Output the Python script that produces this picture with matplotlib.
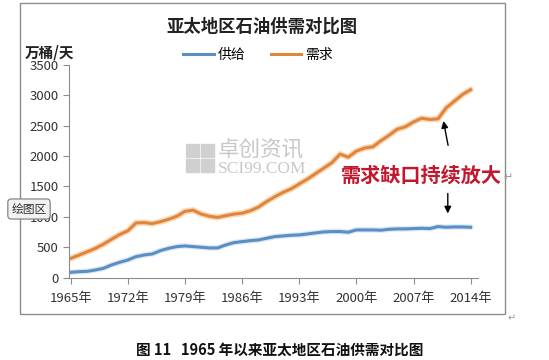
import matplotlib.pyplot as plt
from matplotlib.patches import Rectangle

plt.rcParams['font.family'] = ['Noto Sans CJK SC', 'DejaVu Sans']

# datos (万桶/天)
years = list(range(1965, 2015))
supply = [88, 99, 104, 126, 154, 209, 253, 291, 346, 373,
          390, 445, 483, 511, 522, 511, 500, 489, 489, 538,
          576, 593, 609, 620, 648, 675, 686, 697, 703, 719,
          736, 752, 758, 758, 747, 785, 785, 785, 780, 796,
          802, 802, 807, 812, 807, 840, 829, 834, 834, 829]
demand = [318, 370, 425, 480, 550, 630, 710, 770, 900, 905,
          890, 920, 960, 1010, 1090, 1110, 1045, 1010, 990, 1020,
          1045, 1060, 1100, 1160, 1250, 1330, 1400, 1460, 1540, 1620,
          1710, 1800, 1890, 2030, 1980, 2080, 2130, 2150, 2250, 2340,
          2440, 2480, 2560, 2620, 2600, 2610, 2790, 2900, 3010, 3090]
xticks = [1965, 1972, 1979, 1986, 1993, 2000, 2007, 2014]
xlabels = [f'{y}年' for y in xticks]
yticks = list(range(0, 3501, 500))

fig = plt.figure(figsize=(5.49, 3.6), dpi=100)

# marco del grafico
fig.patches.append(Rectangle((20 / 549, 1 - 314 / 360), 485 / 549, 311 / 360,
                             transform=fig.transFigure, fill=False,
                             edgecolor='#8c8c8c', linewidth=1))

ax = fig.add_axes([69.3 / 549, 1 - 277.7 / 360, (478 - 69.3) / 549, (277.7 - 64.7) / 360])

# lineas con un halo suave
ax.plot(years, demand, color='#f5c08e', linewidth=4.5, alpha=0.6, solid_capstyle='round')
ax.plot(years, supply, color='#b9d3ec', linewidth=4.0, alpha=0.5, solid_capstyle='round')
l1, = ax.plot(years, supply, color='#5b8fc2', linewidth=2.2, label='供给')
l2, = ax.plot(years, demand, color='#e0863a', linewidth=2.2, label='需求')

ax.set_xlim(1964.83, 2014.9)
ax.set_ylim(0, 3500)
ax.set_xticks(xticks)
ax.set_xticklabels(xlabels, fontsize=9.5, color='#333333')
ax.set_yticks(yticks)
ax.set_yticklabels([str(v) for v in yticks], fontsize=9.5, color='#333333')
ax.tick_params(axis='both', direction='out', length=4, color='#8c8c8c', width=0.8)
ax.tick_params(axis='x', pad=6)
for s in ['top', 'right']:
    ax.spines[s].set_visible(False)
for s in ['left', 'bottom']:
    ax.spines[s].set_color('#8c8c8c')
    ax.spines[s].set_linewidth(0.8)

# titulo, unidad y leyenda
fig.text(262 / 549, 1 - 27 / 360, '亚太地区石油供需对比图', ha='center', va='center',
         fontsize=12.5, fontweight='bold', color='#222222')
fig.text(25 / 549, 1 - 52 / 360, '万桶/天', ha='left', va='center',
         fontsize=10.5, fontweight='bold', color='#222222')
fig.legend(handles=[l1, l2], loc='center', bbox_to_anchor=(258 / 549, 1 - 55 / 360),
           ncol=2, frameon=False, fontsize=10, handlelength=2.2, columnspacing=1.8,
           handletextpad=0.3)

# marca de agua
for dx, dy in [(0, 0), (15, 0), (0, 15), (15, 15)]:
    fig.patches.append(Rectangle(((186 + dx) / 549, 1 - (157 + dy) / 360), 13 / 549, 13 / 360,
                                 transform=fig.transFigure, color='#d0d0d0', zorder=0))
fig.text(218 / 549, 1 - 150 / 360, '卓创资讯', fontsize=15.5, color='#c8c8c8',
         ha='left', va='center', zorder=0)
fig.text(218 / 549, 1 - 169 / 360, 'SCI99.COM', fontsize=12.5, color='#c8c8c8',
         ha='left', va='center', family='Liberation Serif', zorder=0)

# anotacion
fig.text(421 / 549, 1 - 175 / 360, '需求缺口持续放大', ha='center', va='center',
         fontsize=14.5, fontweight='bold', color='#c3172e')
fig.text(503 / 549, 1 - 177 / 360, '↵', ha='left', va='center', fontsize=8,
         color='#999999', family='DejaVu Sans')
ax.annotate('', xy=(2010.6, 2620), xytext=(2011.3, 2130),
            arrowprops=dict(arrowstyle='-|>', color='black', lw=1, mutation_scale=10))
ax.annotate('', xy=(2011.2, 1010), xytext=(2011.2, 1430),
            arrowprops=dict(arrowstyle='-|>', color='black', lw=1, mutation_scale=10))

# etiqueta "绘图区"
fig.text(29 / 549, 1 - 209 / 360, '绘图区', ha='center', va='center', fontsize=8.5,
         color='#333333', zorder=10,
         bbox=dict(boxstyle='round,pad=0.3', facecolor='#f2f2f2', edgecolor='#777777', lw=0.8))

# pie de figura
fig.text(280 / 549, 1 - 350 / 360, '图 11   1965 年以来亚太地区石油供需对比图', ha='center',
         va='center', fontsize=10.5, fontweight='bold', color='#111111')
fig.text(508 / 549, 1 - 318 / 360, '↵', ha='left', va='center', fontsize=7,
         color='#999999', family='DejaVu Sans')

plt.savefig('out.png', dpi=100)
